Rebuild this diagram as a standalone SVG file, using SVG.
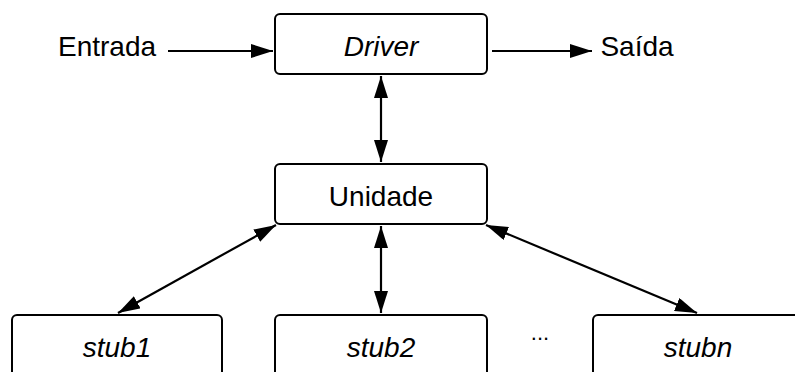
<svg xmlns="http://www.w3.org/2000/svg" width="795" height="372" viewBox="0 0 795 372">
<defs>
<marker id="ah" viewBox="0 0 22 14" refX="22" refY="7" markerWidth="22" markerHeight="14" markerUnits="userSpaceOnUse" orient="auto-start-reverse">
<path d="M0,0 L22,7 L0,14 Z" fill="#000"/>
</marker>
<style>
.box{fill:#fff;stroke:#000;stroke-width:2}
.t{font-family:"Liberation Sans",Arial,sans-serif;font-size:28px;fill:#000;text-anchor:middle}
.i{font-style:italic}
.c{stroke:#000;stroke-width:2.2;fill:none}
</style>
</defs>
<rect width="795" height="372" fill="#fff"/>
<g id="connectors">
<line class="c" x1="168" y1="51" x2="273" y2="51" marker-end="url(#ah)"/>
<line class="c" x1="492" y1="51" x2="592" y2="51" marker-end="url(#ah)"/>
<line class="c" x1="381" y1="76" x2="381" y2="162" marker-start="url(#ah)" marker-end="url(#ah)"/>
<line class="c" x1="381" y1="226" x2="381" y2="313" marker-start="url(#ah)" marker-end="url(#ah)"/>
<line class="c" x1="276" y1="225" x2="118" y2="313" marker-start="url(#ah)" marker-end="url(#ah)"/>
<line class="c" x1="486" y1="225" x2="697" y2="313" marker-start="url(#ah)" marker-end="url(#ah)"/>
</g>
<g id="entrada"><text class="t" x="107" y="56">Entrada</text></g>
<g id="saida"><text class="t" x="637" y="56">Saída</text></g>
<g id="driver"><rect class="box" x="275" y="14" width="212" height="60" rx="5"/><text class="t i" x="381" y="56">Driver</text></g>
<g id="unidade"><rect class="box" x="275" y="164" width="212" height="60" rx="5"/><text class="t" x="381" y="206">Unidade</text></g>
<g id="stub1"><rect class="box" x="12" y="315" width="210" height="70" rx="5"/><text class="t i" x="117" y="357">stub1</text></g>
<g id="stub2"><rect class="box" x="275" y="315" width="212" height="70" rx="5"/><text class="t i" x="381" y="357">stub2</text></g>
<g id="stubn"><rect class="box" x="593" y="315" width="212" height="70" rx="5"/><text class="t i" x="698" y="357">stubn</text></g>
<g id="ellipsis"><text class="t" x="540" y="340" style="font-size:22px">...</text></g>
</svg>
